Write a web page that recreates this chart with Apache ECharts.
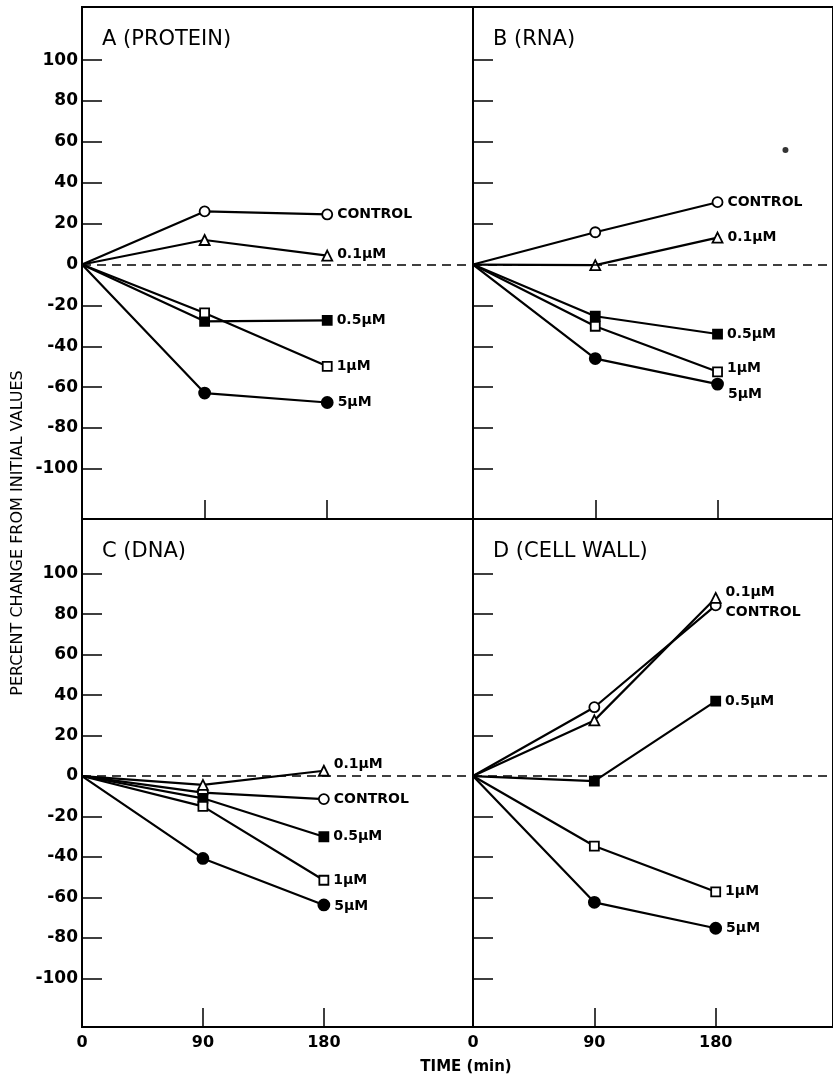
<html>
  <head>
    <meta charset="UTF-8" />
    <script src="https://cdn.jsdelivr.net/npm/echarts@6/dist/echarts.min.js"></script>
    <style>
      html, body { margin: 0; padding: 0; background: #fff; }
      #main { width: 833px; height: 1079px; }
    </style>
  </head>
  <body>
    <div id="main"></div>
    <script>
      // time points (min)
      const times = [0, 90, 180];
      const groups = ['CONTROL', '0.1μM', '0.5μM', '1μM', '5μM'];
      // percent change at 0, 90, 180 min, one row per group (same order as groups)
      const protein = [[0, 26, 24.5], [0, 12, 4.4], [0, -27.8, -27.3], [0, -23.7, -49.8], [0, -62.9, -67.5]];
      const rna = [[0, 15.8, 30.5], [0, -0.3, 13.2], [0, -25.3, -34], [0, -30.2, -52.5], [0, -46, -58.5]];
      const dna = [[0, -8.2, -11.4], [0, -4.4, 2.6], [0, -11, -30], [0, -15, -51.5], [0, -40.7, -63.7]];
      const cellWall = [[0, 34, 84.3], [0, 27.5, 88], [0, -2.5, 37], [0, -34.6, -57.2], [0, -62.4, -75.2]];
      const yTicks = [-100, -80, -60, -40, -20, 0, 20, 40, 60, 80, 100];
      const xTicks = [0, 90, 180];
      const panelTitles = ['A (PROTEIN)', 'B (RNA)', 'C (DNA)', 'D (CELL WALL)'];
      const strayDot = [[230, 56]]; // speck in panel B

      const panels = [protein, rna, dna, cellWall];
      const symbols = ['circle', 'triangle', 'rect', 'rect', 'circle'];
      const filled = [false, false, true, false, true];
      const sizes = [10, 10, 9, 9, 11];

      // layout of the four boxes
      const grids = [
        { left: 82, top: 7, width: 391, height: 512 },
        { left: 473, top: 7, width: 362, height: 512 },
        { left: 82, top: 519, width: 391, height: 508 },
        { left: 473, top: 519, width: 362, height: 508 }
      ];
      const xMax = [287, 265, 291, 267];
      const yRange = [[-124.5, 126], [-124.5, 126], [-124, 127], [-124, 127]];
      const labelOffsets = [
        [[0, 0], [0, -1], [0, 0], [0, 0], [0, 0]],
        [[0, 0], [0, 0], [0, 0], [0, -3], [0, 10]],
        [[0, 0], [0, -6], [0, 0], [0, 0], [0, 1]],
        [[0, 7], [0, -6], [0, 0], [0, 0], [0, 0]]
      ];

      const font = 'DejaVu Sans';
      const series = [];
      panels.forEach((rows, p) => {
        rows.forEach((vals, g) => {
          const data = times.map((t, i) => {
            const item = { value: [t, vals[i]] };
            if (i === 0) item.symbol = 'none';
            if (i === times.length - 1) {
              item.label = {
                show: true,
                position: 'right',
                distance: 4,
                formatter: groups[g],
                offset: labelOffsets[p][g],
                color: '#000',
                fontFamily: font,
                fontWeight: 'bold',
                fontSize: 14
              };
            }
            return item;
          });
          const s = {
            type: 'line',
            xAxisIndex: p,
            yAxisIndex: p,
            data: data,
            symbol: symbols[g],
            symbolSize: sizes[g],
            showAllSymbol: true,
            lineStyle: { color: '#000', width: 2.2 },
            itemStyle: {
              color: filled[g] ? '#000' : '#fff',
              borderColor: '#000',
              borderWidth: 1.8
            },
            z: 3
          };
          if (g === 0) {
            s.markLine = {
              silent: true,
              symbol: 'none',
              label: { show: false },
              lineStyle: { color: '#000', type: [9, 6], width: 1.5 },
              data: [{ yAxis: 0 }]
            };
          }
          series.push(s);
        });
      });
      series.push({
        type: 'scatter',
        xAxisIndex: 1,
        yAxisIndex: 1,
        data: strayDot,
        symbolSize: 6,
        itemStyle: { color: '#000' }
      });

      const option = {
        animation: false,
        backgroundColor: '#fff',
        title: panelTitles.map((t, p) => ({
          text: t,
          left: grids[p].left + 15,
          top: grids[p].top + 17,
          textStyle: { fontFamily: font, fontWeight: 'normal', fontSize: 21, color: '#000' }
        })),
        grid: grids.map(g => Object.assign({ show: true, borderColor: '#000', borderWidth: 2, backgroundColor: 'transparent' }, g)),
        xAxis: grids.map((g, p) => ({
          type: 'value',
          gridIndex: p,
          min: 0,
          max: xMax[p],
          axisLine: { show: false, onZero: false },
          splitLine: { show: false },
          axisTick: {
            show: true,
            inside: true,
            length: 19,
            customValues: xTicks.filter(v => v !== 0),
            lineStyle: { color: '#000', width: 1.5 }
          },
          axisLabel: {
            show: p >= 2,
            customValues: xTicks,
            margin: 8,
            color: '#000',
            fontFamily: font,
            fontWeight: 'bold',
            fontSize: 16
          }
        })),
        yAxis: grids.map((g, p) => ({
          type: 'value',
          gridIndex: p,
          min: yRange[p][0],
          max: yRange[p][1],
          axisLine: { show: false, onZero: false },
          splitLine: { show: false },
          axisTick: {
            show: true,
            inside: true,
            length: 20,
            customValues: yTicks.filter(v => v !== 0),
            lineStyle: { color: '#000', width: 1.5 }
          },
          axisLabel: {
            show: p % 2 === 0,
            customValues: yTicks,
            margin: 4,
            color: '#000',
            fontFamily: font,
            fontWeight: 'bold',
            fontSize: 17
          }
        })),
        graphic: [
          {
            type: 'text',
            x: 18,
            y: 533,
            rotation: Math.PI / 2,
            style: {
              text: 'PERCENT CHANGE FROM INITIAL VALUES',
              fill: '#000',
              font: 'normal 16px "DejaVu Sans"',
              textAlign: 'center',
              textVerticalAlign: 'middle'
            }
          },
          {
            type: 'text',
            x: 466,
            y: 1067,
            style: {
              text: 'TIME (min)',
              fill: '#000',
              font: 'bold 15px "DejaVu Sans"',
              textAlign: 'center',
              textVerticalAlign: 'middle'
            }
          }
        ],
        series: series
      };

      const chart = echarts.init(document.getElementById('main'));
      chart.setOption(option);
    </script>
  </body>
</html>
